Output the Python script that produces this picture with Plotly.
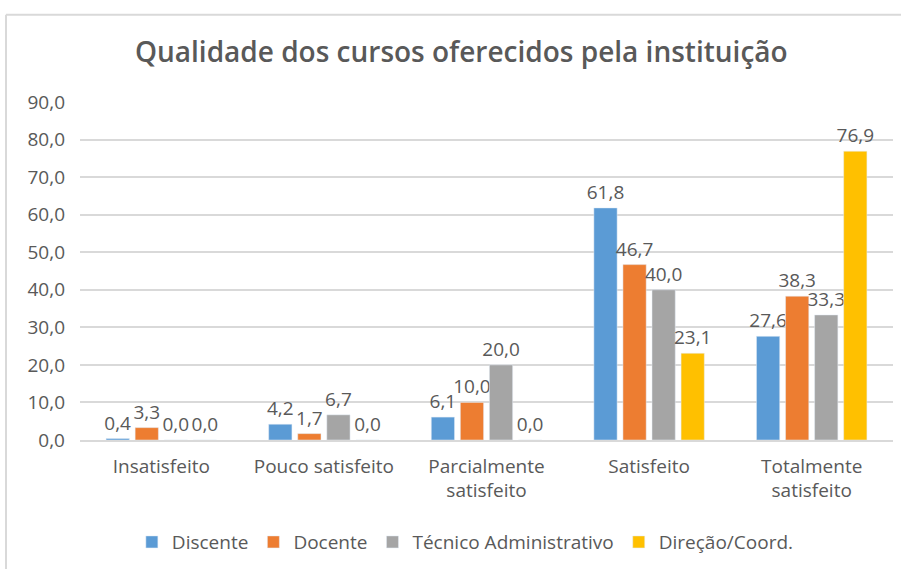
import plotly.graph_objects as go

categories = ["Insatisfeito", "Pouco satisfeito", "Parcialmente<br>satisfeito", "Satisfeito", "Totalmente<br>satisfeito"]
discente = [0.4, 4.2, 6.1, 61.8, 27.6]
docente = [3.3, 1.7, 10.0, 46.7, 38.3]
tecnico = [0.0, 6.7, 20.0, 40.0, 33.3]
direcao = [0.0, 0.0, 0.0, 23.1, 76.9]
series_names = ["Discente", "Docente", "Técnico Administrativo", "Direção/Coord."]
colors = ["#5B9BD5", "#ED7D31", "#A5A5A5", "#FFC000"]
y_ticks = [0, 10, 20, 30, 40, 50, 60, 70, 80, 90]

FONT = "Open Sans"
TXT = "#595959"

fig = go.Figure()
for name, vals, c in zip(series_names, [discente, docente, tecnico, direcao], colors):
    fig.add_trace(go.Bar(
        x=categories, y=vals, name=name, marker_color=c,
        texttemplate="%{y:.1f}", textposition="outside",
        textfont=dict(family=FONT, size=19, color=TXT),
        cliponaxis=False,
    ))

fig.update_layout(
    width=901, height=569,
    separators=",.",
    paper_bgcolor="white", plot_bgcolor="white",
    margin=dict(l=80, r=8, t=102, b=126),
    barmode="group", bargap=0.285, bargroupgap=0.2,
    uniformtext=dict(minsize=19, mode="show"),
    title=dict(text="Qualidade dos cursos oferecidos pela instituição",
               x=0.512, xanchor="center", y=0.909, yanchor="middle",
               font=dict(family=FONT, size=28, color=TXT, weight=600)),
    legend=dict(orientation="h", x=0.474, xanchor="center", y=-0.302, yanchor="middle",
                font=dict(family=FONT, size=19, color=TXT), itemwidth=30,
                traceorder="normal"),
    font=dict(family=FONT, color=TXT),
    showlegend=True,
)
fig.update_xaxes(showgrid=False, showline=True, linecolor="#d9d9d9", linewidth=1.5,
                 tickfont=dict(family=FONT, size=19, color=TXT), ticks="",
                 ticklabelstandoff=8)
fig.update_yaxes(range=[0, 90], tickvals=y_ticks, tickformat=".1f",
                 showgrid=True, gridcolor="#d9d9d9", gridwidth=1.5,
                 zeroline=False, showline=False, ticks="",
                 ticklabelstandoff=14,
                 tickfont=dict(family=FONT, size=19, color=TXT))

# outer chart frame (top and left edges visible)
fig.add_shape(type="line", xref="paper", yref="paper",
              x0=-0.091, x1=1.2, y0=1.258, y1=1.258,
              line=dict(color="#d9d9d9", width=2), layer="below")
fig.add_shape(type="line", xref="paper", yref="paper",
              x0=-0.091, x1=-0.091, y0=-0.6, y1=1.258,
              line=dict(color="#d9d9d9", width=2), layer="below")

fig.write_html("out.html",
               post_script="document.body.style.margin='0';document.body.style.overflow='hidden';document.documentElement.style.overflow='hidden';",
               config={"displayModeBar": False})
